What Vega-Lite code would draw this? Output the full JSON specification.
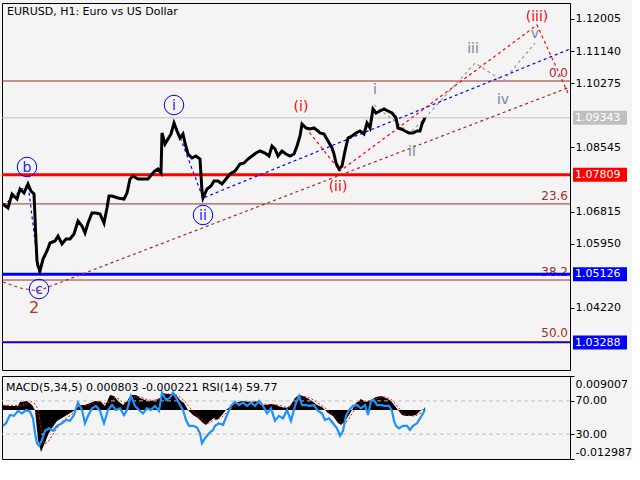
{
"$schema": "https://vega.github.io/schema/vega-lite/v6.json",
"background": "#f4f4f4",
"padding": {"left": -4, "top": 2, "right": 0, "bottom": 0},
"spacing": 4,
"config": {"view": {"stroke": "black", "strokeWidth": 1}, "font": "DejaVu Sans", "text": {"font": "DejaVu Sans"}},
"datasets": {
"price": [{"t":1,"p":1.07021},{"t":6,"p":1.06913},{"t":10,"p":1.0729},{"t":15,"p":1.07156},{"t":18,"p":1.07425},{"t":22,"p":1.07317},{"t":26,"p":1.0756},{"t":29,"p":1.07371},{"t":32,"p":1.0729},{"t":34,"p":1.06024},{"t":35,"p":1.05486},{"t":36,"p":1.05351},{"t":38,"p":1.05216},{"t":41,"p":1.05539},{"t":45,"p":1.05755},{"t":48,"p":1.0597},{"t":53,"p":1.06024},{"t":56,"p":1.06159},{"t":60,"p":1.05943},{"t":64,"p":1.06078},{"t":68,"p":1.06078},{"t":72,"p":1.06213},{"t":76,"p":1.06563},{"t":80,"p":1.06428},{"t":83,"p":1.0624},{"t":86,"p":1.06509},{"t":90,"p":1.06779},{"t":94,"p":1.06779},{"t":98,"p":1.06752},{"t":102,"p":1.06509},{"t":105,"p":1.06913},{"t":107,"p":1.07237},{"t":110,"p":1.07237},{"t":116,"p":1.07183},{"t":122,"p":1.07156},{"t":125,"p":1.07317},{"t":128,"p":1.07695},{"t":131,"p":1.07775},{"t":136,"p":1.07695},{"t":141,"p":1.07695},{"t":146,"p":1.07695},{"t":150,"p":1.07829},{"t":153,"p":1.0791},{"t":156,"p":1.07964},{"t":159,"p":1.07856},{"t":160,"p":1.08934},{"t":163,"p":1.08637},{"t":166,"p":1.08772},{"t":169,"p":1.08907},{"t":172,"p":1.09203},{"t":175,"p":1.08988},{"t":178,"p":1.08799},{"t":181,"p":1.08907},{"t":183,"p":1.08664},{"t":186,"p":1.08368},{"t":190,"p":1.0826},{"t":194,"p":1.08314},{"t":198,"p":1.08233},{"t":200,"p":1.07371},{"t":201,"p":1.07183},{"t":205,"p":1.07425},{"t":209,"p":1.07506},{"t":212,"p":1.07641},{"t":216,"p":1.07641},{"t":220,"p":1.0756},{"t":224,"p":1.07695},{"t":228,"p":1.07829},{"t":233,"p":1.0791},{"t":238,"p":1.08099},{"t":242,"p":1.08126},{"t":246,"p":1.08233},{"t":250,"p":1.08314},{"t":254,"p":1.08395},{"t":258,"p":1.08449},{"t":263,"p":1.08395},{"t":267,"p":1.08314},{"t":270,"p":1.08584},{"t":273,"p":1.08503},{"t":276,"p":1.08314},{"t":280,"p":1.08449},{"t":284,"p":1.08368},{"t":288,"p":1.08314},{"t":292,"p":1.08368},{"t":295,"p":1.08584},{"t":298,"p":1.08853},{"t":300,"p":1.09176},{"t":304,"p":1.09069},{"t":308,"p":1.09042},{"t":312,"p":1.09069},{"t":316,"p":1.08988},{"t":318,"p":1.08934},{"t":322,"p":1.08907},{"t":326,"p":1.08718},{"t":330,"p":1.0853},{"t":332,"p":1.08368},{"t":334,"p":1.08126},{"t":337,"p":1.07964},{"t":340,"p":1.08045},{"t":343,"p":1.08449},{"t":346,"p":1.08799},{"t":350,"p":1.08853},{"t":354,"p":1.08934},{"t":358,"p":1.08988},{"t":362,"p":1.08907},{"t":365,"p":1.09203},{"t":368,"p":1.09069},{"t":371,"p":1.0958},{"t":374,"p":1.09473},{"t":378,"p":1.09527},{"t":382,"p":1.0958},{"t":386,"p":1.09527},{"t":390,"p":1.09473},{"t":394,"p":1.09338},{"t":396,"p":1.09069},{"t":399,"p":1.09042},{"t":403,"p":1.08988},{"t":407,"p":1.08934},{"t":411,"p":1.08934},{"t":415,"p":1.08988},{"t":418,"p":1.08988},{"t":420,"p":1.09176},{"t":423,"p":1.09343}],
"fib": [{"lvl":"0.0","p":1.10335},{"lvl":"23.6","p":1.07023},{"lvl":"38.2","p":1.04973},{"lvl":"50.0","p":1.03317}],
"levels": [{"p":1.09343,"lab":"1.09343","kind":"bid"},{"p":1.07809,"lab":"1.07809","kind":"pivot"},{"p":1.05126,"lab":"1.05126","kind":"target"},{"p":1.03288,"lab":"1.03288","kind":"target"}],
"trend": [
{"t":1,"p":1.06967,"line":"m1","deg":"minute"},{"t":26,"p":1.0756,"line":"m1","deg":"minute"},{"t":37,"p":1.05162,"line":"m1","deg":"minute"},
{"t":172,"p":1.09257,"line":"m2","deg":"minute"},{"t":201,"p":1.07183,"line":"m2","deg":"minute"},{"t":568,"p":1.11197,"line":"m2","deg":"minute"},
{"t":300,"p":1.09203,"line":"mi","deg":"minor"},{"t":338,"p":1.0791,"line":"mi","deg":"minor"},{"t":535,"p":1.11843,"line":"mi","deg":"minor"},{"t":566,"p":1.10008,"line":"mi","deg":"minor"},
{"t":1,"p":1.0492,"line":"in","deg":"intermediate"},{"t":18,"p":1.04758,"line":"in","deg":"intermediate"},{"t":36,"p":1.04677,"line":"in","deg":"intermediate"},{"t":568,"p":1.10173,"line":"in","deg":"intermediate"},
{"t":372,"p":1.09688,"line":"sm","deg":"subminuette"},{"t":408,"p":1.08934,"line":"sm","deg":"subminuette"},{"t":423,"p":1.09338,"line":"sm","deg":"subminuette"},{"t":473,"p":1.1082,"line":"sm","deg":"subminuette"},{"t":501,"p":1.10335,"line":"sm","deg":"subminuette"},{"t":533,"p":1.11358,"line":"sm","deg":"subminuette"}],
"minute": [{"t":25,"p":1.08018,"lab":"b"},{"t":172,"p":1.09688,"lab":"i"},{"t":201,"p":1.06725,"lab":"ii"},{"t":37,"p":1.04731,"lab":"c"}],
"minor": [{"t":299,"p":1.09634,"lab":"(i)"},{"t":336,"p":1.07479,"lab":"(ii)"},{"t":535,"p":1.1206,"lab":"(iii)"}],
"subminuette": [{"t":373,"p":1.10092,"lab":"i"},{"t":410,"p":1.08422,"lab":"ii"},{"t":471,"p":1.11197,"lab":"iii"},{"t":501,"p":1.09823,"lab":"iv"},{"t":533,"p":1.11601,"lab":"v"}],
"intermediate": [{"t":32,"p":1.04219,"lab":"2"}],
"macd": [{"t":1,"m":0.00133,"s":0.0012},{"t":8,"m":0.00106,"s":0.0013},{"t":16,"m":0.00106,"s":0.0011},{"t":18,"m":0.00212,"s":0.0011},{"t":25,"m":0.00239,"s":0.0018},{"t":30,"m":0.00133,"s":0.0022},{"t":33,"m":0,"s":0.0016},{"t":36,"m":-0.00795,"s":0.0002},{"t":39,"m":-0.01113,"s":-0.005},{"t":42,"m":-0.00928,"s":-0.009},{"t":46,"m":-0.00663,"s":-0.0085},{"t":50,"m":-0.00477,"s":-0.0068},{"t":55,"m":-0.00292,"s":-0.0048},{"t":60,"m":-0.00212,"s":-0.0031},{"t":65,"m":-0.00133,"s":-0.002},{"t":70,"m":-0.00053,"s":-0.0011},{"t":73,"m":0,"s":-0.0005},{"t":78,"m":0.00133,"s":0.0006},{"t":83,"m":0.00133,"s":0.0012},{"t":88,"m":0.00186,"s":0.0015},{"t":93,"m":0.00239,"s":0.002},{"t":98,"m":0.00239,"s":0.0023},{"t":103,"m":0.00106,"s":0.0017},{"t":108,"m":0.00398,"s":0.0021},{"t":112,"m":0.00371,"s":0.0033},{"t":116,"m":0.00239,"s":0.003},{"t":121,"m":0.00133,"s":0.002},{"t":125,"m":0.00239,"s":0.002},{"t":129,"m":0.00398,"s":0.003},{"t":134,"m":0.00398,"s":0.0037},{"t":138,"m":0.00318,"s":0.0035},{"t":143,"m":0.00265,"s":0.0029},{"t":148,"m":0.00239,"s":0.0026},{"t":153,"m":0.00265,"s":0.0026},{"t":158,"m":0.00318,"s":0.0029},{"t":161,"m":0.00451,"s":0.0037},{"t":165,"m":0.00424,"s":0.0042},{"t":170,"m":0.00424,"s":0.0043},{"t":174,"m":0.00398,"s":0.0041},{"t":178,"m":0.00265,"s":0.0034},{"t":182,"m":0.00186,"s":0.0025},{"t":186,"m":0,"s":0.0012},{"t":191,"m":-0.00133,"s":-0.0004},{"t":196,"m":-0.00212,"s":-0.0016},{"t":201,"m":-0.00345,"s":-0.0027},{"t":204,"m":-0.00398,"s":-0.0035},{"t":208,"m":-0.00292,"s":-0.0034},{"t":212,"m":-0.00212,"s":-0.0026},{"t":215,"m":-0.00265,"s":-0.0025},{"t":220,"m":-0.00133,"s":-0.0019},{"t":224,"m":0,"s":-0.0008},{"t":229,"m":0.00106,"s":0.0003},{"t":234,"m":0.00186,"s":0.0013},{"t":239,"m":0.00239,"s":0.002},{"t":244,"m":0.00239,"s":0.0023},{"t":249,"m":0.00186,"s":0.0022},{"t":254,"m":0.00239,"s":0.0022},{"t":259,"m":0.00133,"s":0.0018},{"t":264,"m":0.00133,"s":0.0015},{"t":269,"m":0.00159,"s":0.0015},{"t":274,"m":0.00133,"s":0.0014},{"t":279,"m":0.0008,"s":0.0011},{"t":284,"m":0.00053,"s":0.0007},{"t":288,"m":0.00106,"s":0.0008},{"t":293,"m":0.00318,"s":0.0019},{"t":297,"m":0.00398,"s":0.0031},{"t":301,"m":0.00371,"s":0.0036},{"t":305,"m":0.00318,"s":0.0035},{"t":310,"m":0.00239,"s":0.0029},{"t":315,"m":0.00133,"s":0.002},{"t":320,"m":0.0008,"s":0.0012},{"t":323,"m":0,"s":0.0006},{"t":326,"m":-0.0008,"s":-0.0002},{"t":331,"m":-0.00159,"s":-0.0011},{"t":336,"m":-0.00345,"s":-0.0025},{"t":339,"m":-0.00398,"s":-0.0034},{"t":343,"m":-0.00292,"s":-0.0035},{"t":347,"m":-0.00133,"s":-0.0023},{"t":350,"m":0,"s":-0.001},{"t":354,"m":0.00186,"s":0.0006},{"t":359,"m":0.00292,"s":0.0021},{"t":364,"m":0.00212,"s":0.0024},{"t":369,"m":0.00265,"s":0.0024},{"t":374,"m":0.00345,"s":0.003},{"t":379,"m":0.00371,"s":0.0035},{"t":384,"m":0.00318,"s":0.0034},{"t":389,"m":0.00239,"s":0.0028},{"t":393,"m":0.00106,"s":0.0018},{"t":396,"m":0,"s":0.0008},{"t":400,"m":-0.00133,"s":-0.0005},{"t":404,"m":-0.00159,"s":-0.0013},{"t":409,"m":-0.00159,"s":-0.0016},{"t":414,"m":-0.00133,"s":-0.0015},{"t":418,"m":-0.00027,"s":-0.0009},{"t":422,"m":0.00027,"s":-0.0004},{"t":423,"m":0.0008,"s":-0.00022}],
"rsi": [{"t":1,"r":40},{"t":4,"r":43},{"t":8,"r":53},{"t":12,"r":52},{"t":16,"r":58},{"t":20,"r":55},{"t":24,"r":59},{"t":28,"r":57},{"t":31,"r":49},{"t":33,"r":31},{"t":35,"r":19},{"t":37,"r":16},{"t":40,"r":23},{"t":43,"r":34},{"t":47,"r":37},{"t":51,"r":34},{"t":55,"r":40},{"t":60,"r":43},{"t":64,"r":47},{"t":68,"r":46},{"t":72,"r":53},{"t":76,"r":68},{"t":80,"r":59},{"t":83,"r":43},{"t":86,"r":52},{"t":90,"r":61},{"t":94,"r":64},{"t":98,"r":58},{"t":102,"r":43},{"t":106,"r":59},{"t":110,"r":65},{"t":114,"r":59},{"t":118,"r":61},{"t":122,"r":53},{"t":125,"r":59},{"t":129,"r":76},{"t":133,"r":64},{"t":137,"r":59},{"t":141,"r":55},{"t":145,"r":61},{"t":149,"r":59},{"t":153,"r":64},{"t":157,"r":58},{"t":160,"r":80},{"t":164,"r":71},{"t":168,"r":74},{"t":171,"r":80},{"t":174,"r":74},{"t":178,"r":65},{"t":181,"r":59},{"t":184,"r":47},{"t":187,"r":40},{"t":191,"r":40},{"t":195,"r":38},{"t":198,"r":31},{"t":200,"r":19},{"t":203,"r":25},{"t":207,"r":31},{"t":211,"r":35},{"t":213,"r":40},{"t":217,"r":43},{"t":221,"r":41},{"t":225,"r":53},{"t":229,"r":64},{"t":233,"r":69},{"t":237,"r":65},{"t":241,"r":68},{"t":245,"r":64},{"t":249,"r":68},{"t":253,"r":64},{"t":257,"r":70},{"t":261,"r":64},{"t":265,"r":55},{"t":269,"r":61},{"t":273,"r":46},{"t":277,"r":52},{"t":281,"r":49},{"t":285,"r":59},{"t":289,"r":46},{"t":293,"r":64},{"t":297,"r":76},{"t":300,"r":65},{"t":304,"r":65},{"t":308,"r":64},{"t":312,"r":65},{"t":316,"r":58},{"t":320,"r":55},{"t":323,"r":47},{"t":327,"r":49},{"t":331,"r":43},{"t":335,"r":37},{"t":338,"r":28},{"t":341,"r":34},{"t":344,"r":52},{"t":347,"r":59},{"t":351,"r":64},{"t":355,"r":65},{"t":359,"r":61},{"t":363,"r":65},{"t":366,"r":53},{"t":369,"r":70},{"t":372,"r":71},{"t":375,"r":65},{"t":379,"r":65},{"t":383,"r":64},{"t":387,"r":64},{"t":390,"r":58},{"t":392,"r":46},{"t":394,"r":40},{"t":397,"r":37},{"t":401,"r":40},{"t":405,"r":40},{"t":408,"r":35},{"t":411,"r":40},{"t":415,"r":43},{"t":418,"r":49},{"t":421,"r":55},{"t":423,"r":59.77}],
"rsilev": [{"r":70},{"r":30}],
"macdtitle": [{"txt":"MACD(5,34,5) 0.000803 -0.000221 RSI(14) 59.77"}],
"title": [{"txt":"EURUSD, H1:  Euro vs US Dollar"}]
},
"vconcat": [
{
"width": 568, "height": 367,
"layer": [
{"data": {"name": "fib"}, "mark": {"type": "rule", "color": "#a52a2a", "strokeWidth": 1},
 "encoding": {"y": {"field": "p", "type": "quantitative", "title": null, "scale": {"domain": [1.02549, 1.12436], "nice": false, "zero": false},
  "axis": {"orient": "right", "title": null, "grid": false, "values": [1.12005, 1.1114, 1.10275, 1.08545, 1.06815, 1.0595, 1.0422], "format": ".5f", "tickSize": 4, "tickColor": "black", "domainColor": "black", "labelColor": "black", "labelFont": "DejaVu Sans", "labelFontSize": 11, "labelPadding": 1, "labelOverlap": false, "labelBaseline": "middle", "zindex": 0}}}},
{"data": {"name": "fib"}, "mark": {"type": "text", "color": "#a52a2a", "align": "right", "baseline": "bottom", "dy": -1, "fontSize": 12},
 "encoding": {"x": {"datum": 566, "scale": {"domain": [0, 568], "nice": false, "zero": false}, "axis": null},
  "y": {"field": "p", "type": "quantitative", "title": null},
  "text": {"field": "lvl"}}},
{"data": {"name": "levels"}, "transform": [{"filter": "datum.kind == 'bid'"}], "mark": {"type": "rule", "color": "#c0c0c0", "strokeWidth": 1},
 "encoding": {"y": {"field": "p", "type": "quantitative", "title": null}}},
{"data": {"name": "levels"}, "transform": [{"filter": "datum.lab == '1.07809'"}], "mark": {"type": "rule", "color": "#ff0000", "strokeWidth": 3},
 "encoding": {"y": {"field": "p", "type": "quantitative", "title": null}}},
{"data": {"name": "levels"}, "transform": [{"filter": "datum.lab == '1.05126'"}], "mark": {"type": "rule", "color": "#0000ff", "strokeWidth": 3},
 "encoding": {"y": {"field": "p", "type": "quantitative", "title": null}}},
{"data": {"name": "levels"}, "transform": [{"filter": "datum.lab == '1.03288'"}], "mark": {"type": "rule", "color": "#0000ff", "strokeWidth": 1.3},
 "encoding": {"y": {"field": "p", "type": "quantitative", "title": null}}},
{"data": {"name": "trend"}, "mark": {"type": "line", "strokeWidth": 1.2, "strokeDash": [3, 3]},
 "encoding": {"x": {"field": "t", "type": "quantitative", "axis": null},
  "y": {"field": "p", "type": "quantitative", "title": null},
  "detail": {"field": "line"},
  "color": {"field": "deg", "type": "nominal", "scale": {"domain": ["minute", "minor", "intermediate", "subminuette"], "range": ["#0000ff", "#ff0000", "#a52a2a", "#9a9a9a"]}, "legend": null}}},
{"data": {"name": "price"}, "mark": {"type": "line", "color": "black", "strokeWidth": 3},
 "encoding": {"x": {"field": "t", "type": "quantitative", "axis": null},
  "y": {"field": "p", "type": "quantitative", "title": null}}},
{"data": {"name": "minute"}, "mark": {"type": "point", "shape": "circle", "size": 380, "filled": false, "stroke": "#0000ff", "strokeWidth": 1, "opacity": 1},
 "encoding": {"x": {"field": "t", "type": "quantitative", "axis": null},
  "y": {"field": "p", "type": "quantitative", "title": null}}},
{"data": {"name": "minute"}, "mark": {"type": "text", "color": "#2020ff", "fontSize": 14, "align": "center", "baseline": "middle", "dy": 1},
 "encoding": {"x": {"field": "t", "type": "quantitative", "axis": null},
  "y": {"field": "p", "type": "quantitative", "title": null},
  "text": {"field": "lab"}}},
{"data": {"name": "minor"}, "mark": {"type": "text", "color": "#ff0000", "fontSize": 14, "align": "center", "baseline": "middle"},
 "encoding": {"x": {"field": "t", "type": "quantitative", "axis": null},
  "y": {"field": "p", "type": "quantitative", "title": null},
  "text": {"field": "lab"}}},
{"data": {"name": "subminuette"}, "mark": {"type": "text", "color": "#778899", "fontSize": 14, "align": "center", "baseline": "middle"},
 "encoding": {"x": {"field": "t", "type": "quantitative", "axis": null},
  "y": {"field": "p", "type": "quantitative", "title": null},
  "text": {"field": "lab"}}},
{"data": {"name": "intermediate"}, "mark": {"type": "text", "color": "#b5322a", "fontSize": 16, "align": "center", "baseline": "middle"},
 "encoding": {"x": {"field": "t", "type": "quantitative", "axis": null},
  "y": {"field": "p", "type": "quantitative", "title": null},
  "text": {"field": "lab"}}},
{"data": {"name": "title"}, "mark": {"type": "text", "color": "black", "fontSize": 11, "align": "left", "baseline": "middle"},
 "encoding": {"x": {"datum": 5, "axis": null},
  "y": {"datum": 1.12194, "title": null},
  "text": {"field": "txt"}}},
{"data": {"name": "levels"}, "mark": {"type": "point", "shape": "M-1,-0.26L1,-0.26L1,0.26L-1,0.26Z", "size": 2916, "filled": true, "opacity": 1, "strokeWidth": 0},
 "encoding": {"x": {"datum": 598, "axis": null},
  "y": {"field": "p", "type": "quantitative", "title": null},
  "fill": {"field": "kind", "type": "nominal", "scale": {"domain": ["bid", "pivot", "target"], "range": ["#c0c0c0", "#ff0000", "#0000ff"]}, "legend": null}}},
{"data": {"name": "levels"}, "mark": {"type": "text", "color": "white", "fontSize": 11, "align": "left", "baseline": "middle"},
 "encoding": {"x": {"datum": 573, "axis": null},
  "y": {"field": "p", "type": "quantitative", "title": null},
  "text": {"field": "lab"}}}
],
"resolve": {"scale": {"color": "independent", "fill": "independent"}}
},
{
"width": 568, "height": 83,
"layer": [
{"data": {"name": "macd"}, "mark": {"type": "area", "color": "black"},
 "encoding": {"x": {"field": "t", "type": "quantitative", "scale": {"domain": [0, 568], "nice": false, "zero": false},
   "axis": {"orient": "bottom", "title": null, "grid": false, "values": [0, 128, 256, 384], "labelExpr": "datum.value == 0 ? '14 Mar 2023' : datum.value == 128 ? '21 Mar 12:00' : datum.value == 256 ? '28 Mar 21:00' : '5 Apr 05:00'", "tickSize": 4, "tickColor": "black", "domainColor": "black", "labelColor": "black", "labelFont": "DejaVu Sans", "labelFontSize": 11, "labelAlign": "left", "labelPadding": 2, "labelFlush": false, "labelOverlap": false}},
  "y": {"field": "m", "type": "quantitative", "scale": {"domain": [-0.012987, 0.009007], "nice": false, "zero": false}, "axis": null},
  "y2": {"datum": 0}}},
{"data": {"name": "macd"}, "mark": {"type": "line", "color": "#ff0000", "strokeWidth": 1, "strokeDash": [2, 2]},
 "encoding": {"x": {"field": "t", "type": "quantitative", "axis": null},
  "y": {"field": "s", "type": "quantitative", "scale": {"domain": [-0.012987, 0.009007], "nice": false, "zero": false}, "axis": null}}},
{"data": {"name": "rsilev"}, "mark": {"type": "rule", "color": "#c0c0c0", "strokeWidth": 1, "strokeDash": [4, 3]},
 "encoding": {"y": {"field": "r", "type": "quantitative", "scale": {"domain": [0, 100], "nice": false, "zero": false}, "axis": null}}},
{"data": {"name": "rsi"}, "mark": {"type": "line", "color": "#1e90ff", "strokeWidth": 2.2},
 "encoding": {"x": {"field": "t", "type": "quantitative", "axis": null},
  "y": {"field": "r", "type": "quantitative", "scale": {"domain": [0, 100], "nice": false, "zero": false},
   "axis": {"orient": "right", "title": null, "grid": false, "values": [100, 70, 30, 0], "labelExpr": "datum.value == 100 ? '0.009007' : datum.value == 0 ? '-0.012987' : format(datum.value, '.2f')", "tickSize": 4, "tickColor": "black", "domainColor": "black", "labelColor": "black", "labelFont": "DejaVu Sans", "labelFontSize": 11, "labelPadding": 1, "labelFlush": true, "labelFlushOffset": -2, "labelOverlap": false}}}},
{"data": {"name": "macdtitle"}, "mark": {"type": "text", "color": "black", "fontSize": 11, "align": "left", "baseline": "middle"},
 "encoding": {"x": {"datum": 4, "axis": null},
  "y": {"datum": 85.5, "scale": {"domain": [0, 100], "nice": false, "zero": false}, "axis": null},
  "text": {"field": "txt"}}}
],
"resolve": {"scale": {"y": "independent"}}
}
]
}
